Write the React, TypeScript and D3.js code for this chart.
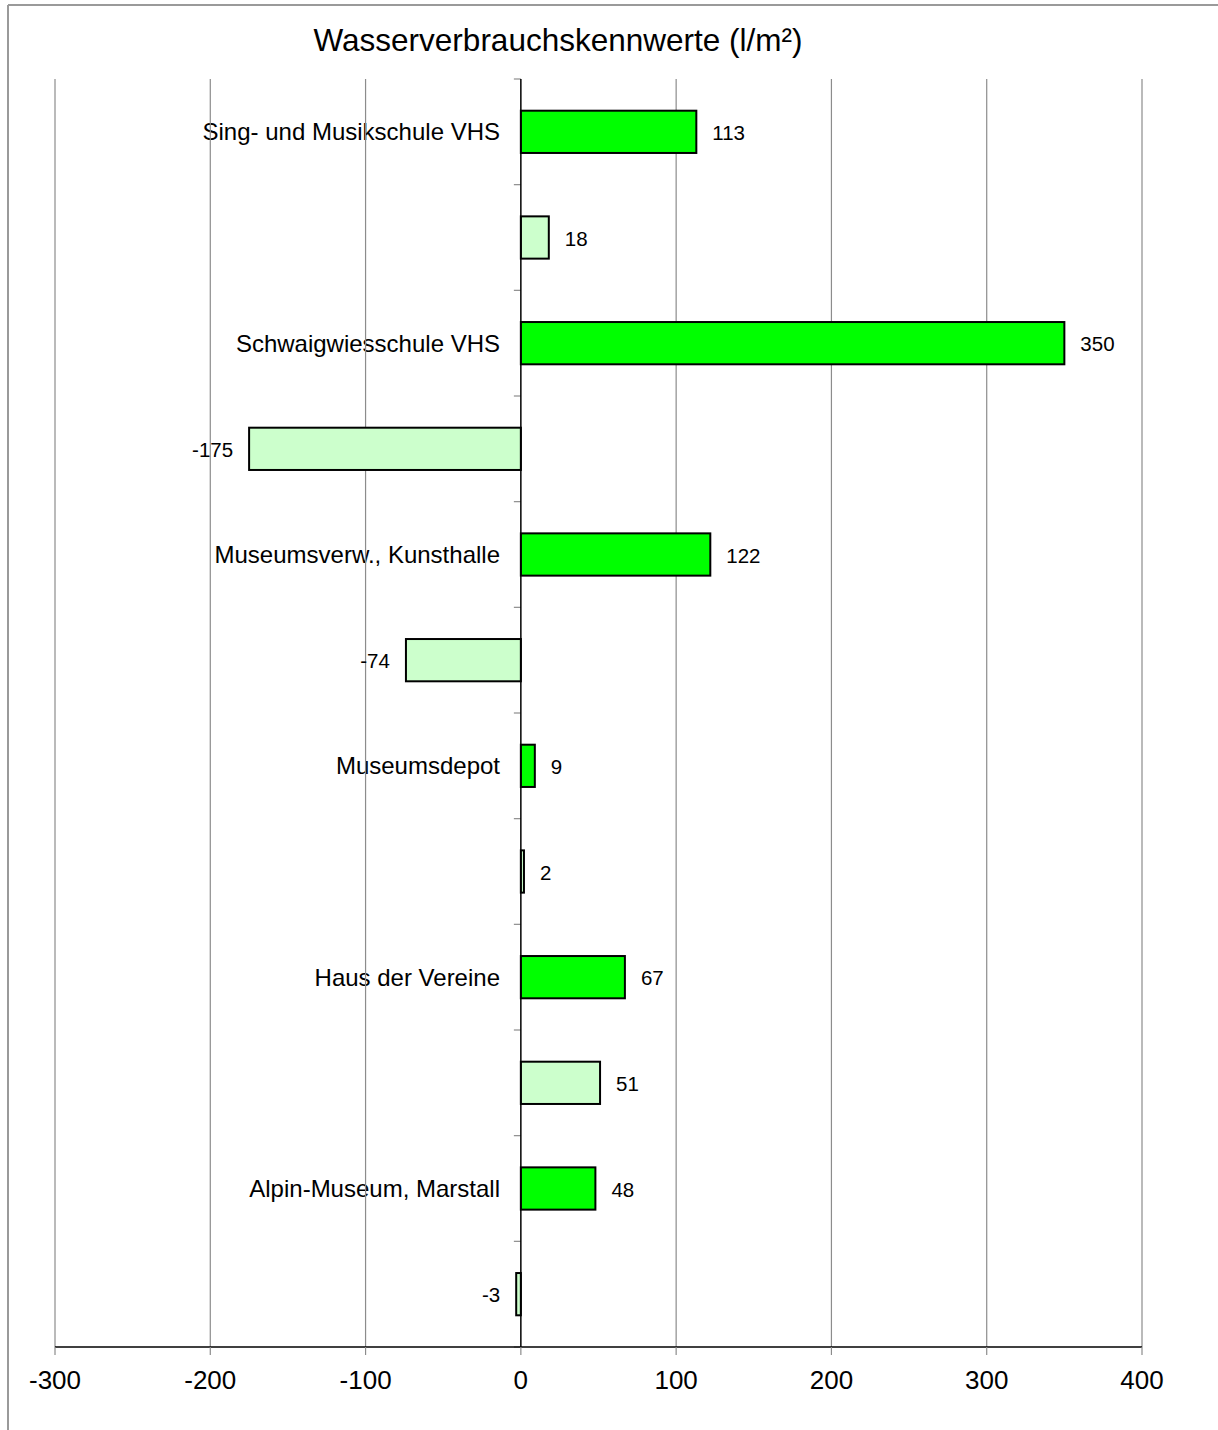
import React from "react";
import * as d3 from "d3";

const categories = [
  "Sing- und Musikschule VHS",
  "",
  "Schwaigwiesschule VHS",
  "",
  "Museumsverw., Kunsthalle",
  "",
  "Museumsdepot",
  "",
  "Haus der Vereine",
  "",
  "Alpin-Museum, Marstall",
  "",
];
const values = [113, 18, 350, -175, 122, -74, 9, 2, 67, 51, 48, -3];
const xTicks = [-300, -200, -100, 0, 100, 200, 300, 400];
const title = "Wasserverbrauchskennwerte (l/m²)";

const W = 1218;
const H = 1430;
const FONT = "'Liberation Sans', Arial, Helvetica, sans-serif";

export default function App() {
  const plotTop = 79;
  const plotBottom = 1347;
  const x = d3.scaleLinear().domain([-300, 400]).range([55, 1142]);
  const idx = categories.map((_, i) => String(i));
  const y = d3.scaleBand().domain(idx).range([plotTop, plotBottom]).paddingInner(0.6).paddingOuter(0.3);
  const step = y.step();
  const x0 = x(0);

  return (
    <svg
      width={W}
      height={H}
      style={{ position: "absolute", left: 0, top: 0, background: "#fff" }}
      fontFamily={FONT}
    >
      {/* frame */}
      <line x1={8} x2={W} y1={5} y2={5} stroke="#9a9a9a" strokeWidth={2} />
      <line x1={8} x2={8} y1={5} y2={H} stroke="#9a9a9a" strokeWidth={2} />

      <text x={558} y={51} textAnchor="middle" fontSize={31.5} fill="#000">
        {title}
      </text>

      {/* category labels */}
      {categories.map((c, i) =>
        c ? (
          <text
            key={"c" + i}
            x={500}
            y={(y(String(i)) as number) + y.bandwidth() / 2}
            dy="0.35em"
            textAnchor="end"
            fontSize={24}
            fill="#000"
          >
            {c}
          </text>
        ) : null
      )}

      {/* gridlines */}
      {xTicks.filter((t) => t !== 0).map((t) => (
        <line key={"g" + t} x1={x(t)} x2={x(t)} y1={plotTop} y2={plotBottom} stroke="#8c8c8c" strokeWidth={1.2} />
      ))}

      {/* category ticks */}
      {d3.range(categories.length + 1).map((k) => (
        <line
          key={"ct" + k}
          x1={x0 - 7}
          x2={x0}
          y1={plotTop + k * step}
          y2={plotTop + k * step}
          stroke="#8c8c8c"
          strokeWidth={1.2}
        />
      ))}

      {/* bars */}
      {values.map((v, i) => {
        const yy = y(String(i)) as number;
        const bx = Math.min(x(v), x0);
        const bw = Math.abs(x(v) - x0);
        return (
          <rect
            key={"b" + i}
            x={bx}
            y={yy}
            width={bw}
            height={y.bandwidth()}
            fill={i % 2 === 0 ? "#00ff00" : "#ccffcc"}
            stroke="#000"
            strokeWidth={2}
          />
        );
      })}

      {/* value labels */}
      {values.map((v, i) => {
        const yy = (y(String(i)) as number) + y.bandwidth() / 2;
        const pos = v >= 0;
        return (
          <text
            key={"v" + i}
            x={pos ? x(v) + 16 : x(v) - 16}
            y={yy + 1}
            dy="0.35em"
            textAnchor={pos ? "start" : "end"}
            fontSize={20.5}
            fill="#000"
          >
            {v}
          </text>
        );
      })}

      {/* axes */}
      <line x1={x0} x2={x0} y1={plotTop} y2={plotBottom} stroke="#000" strokeWidth={1.5} />
      <line x1={x(-300)} x2={x(400)} y1={plotBottom} y2={plotBottom} stroke="#000" strokeWidth={1.5} />
      {xTicks.map((t) => (
        <g key={"t" + t}>
          <line x1={x(t)} x2={x(t)} y1={plotBottom} y2={plotBottom + 8} stroke="#8c8c8c" strokeWidth={1.2} />
          <text x={x(t)} y={1389} textAnchor="middle" fontSize={26} fill="#000">
            {t}
          </text>
        </g>
      ))}
    </svg>
  );
}
